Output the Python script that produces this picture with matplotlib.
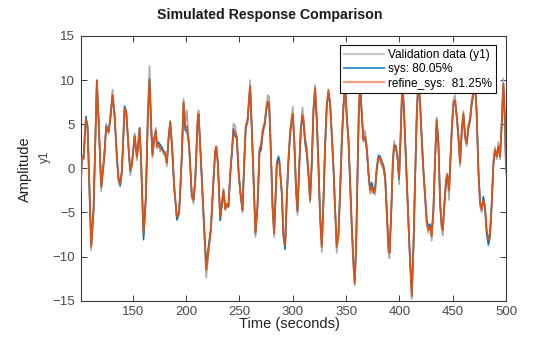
import matplotlib
matplotlib.use("Agg")
import matplotlib.pyplot as plt
from matplotlib.lines import Line2D

plt.rcParams['font.family'] = ['Liberation Sans', 'DejaVu Sans']

# ---------------- data ----------------
time_s = [
    101.0, 102.2, 103.7, 105.9, 107.5, 110.9, 113.1, 116.2, 117.8, 120.3,
    123.1, 125.0, 127.2, 128.8, 130.9, 132.8, 135.0, 136.5, 138.1, 139.7,
    142.2, 143.8, 145.9, 147.5, 149.1, 151.6, 153.8, 154.7, 156.3, 157.8,
    160.0, 162.2, 164.1, 165.6, 167.2, 168.4, 170.0, 171.6, 172.5, 174.1,
    175.6, 177.2, 178.8, 180.3, 181.9, 183.4, 185.0, 186.6, 188.8, 191.3,
    193.4, 195.9, 197.5, 199.1, 200.7, 202.8, 205.3, 206.9, 208.5, 210.7,
    211.6, 213.2, 214.7, 216.9, 218.8, 221.0, 223.2, 225.6, 227.2, 228.2,
    229.7, 231.9, 233.5, 235.0, 236.6, 238.2, 239.7, 241.3, 242.8, 244.4,
    246.0, 247.5, 249.1, 250.6, 252.8, 254.4, 255.9, 257.5, 259.4, 260.0,
    261.6, 263.2, 265.0, 266.9, 268.8, 270.3, 271.9, 273.8, 275.0, 276.6,
    277.8, 279.4, 281.0, 282.5, 284.1, 285.0, 286.6, 287.5, 289.7, 291.2,
    292.8, 294.4, 295.9, 297.5, 299.0, 300.0, 301.5, 303.1, 304.4, 305.9,
    307.5, 309.0, 310.0, 311.5, 313.1, 314.7, 316.2, 317.8, 319.4, 320.9,
    322.5, 324.0, 325.6, 327.2, 328.7, 330.3, 331.8, 333.4, 335.0, 336.5,
    338.1, 339.7, 341.2, 342.8, 344.4, 345.9, 347.5, 349.0, 350.6, 352.2,
    353.7, 355.3, 356.9, 358.1, 359.4, 360.6, 361.9, 363.1, 364.7, 366.2,
    367.8, 369.4, 370.9, 372.5, 374.0, 375.6, 377.2, 378.7, 380.3, 381.9,
    383.4, 385.0, 386.6, 388.1, 389.7, 390.7, 392.2, 393.8, 395.0, 396.6,
    398.2, 399.7, 401.3, 402.8, 404.4, 406.9, 409.4, 411.6, 413.2, 414.7,
    416.3, 417.8, 419.4, 421.0, 422.5, 424.1, 425.7, 427.2, 428.8, 430.3,
    431.9, 433.5, 435.0, 436.6, 438.2, 439.7, 440.7, 442.2, 443.8, 445.0,
    446.6, 447.5, 449.1, 450.7, 452.2, 453.8, 455.3, 456.9, 458.5, 460.0,
    461.6, 463.2, 464.7, 466.3, 467.8, 469.4, 471.0, 472.5, 474.1, 475.7,
    477.2, 478.8, 480.3, 481.9, 483.5, 485.0, 486.6, 488.2, 489.7, 491.3,
    492.8, 494.4, 496.0, 497.5, 499.1, 500.0,
]

validation_y1 = [
    -2.3, 1.0, 1.0, 5.3, 4.5, -9.3, -5.0, 9.7, 5.8, -2.6,
    1.0, 5.1, 3.9, 5.9, 8.9, 6.3, 1.1, -1.5, -2.1, -0.5,
    7.1, 6.1, 2.2, -0.8, 0.3, 4.0, 0.9, 2.6, 4.6, 0.3,
    -7.7, -3.0, 6.6, 11.6, 5.5, 1.2, 3.5, 4.6, 2.2, 3.0,
    1.9, 2.4, 1.6, 1.9, 0.2, 3.5, 5.4, 2.5, -2.4, -5.9,
    -5.2, 1.6, 7.9, 5.2, 6.6, 2.2, -3.3, -4.0, -1.6, 5.6,
    6.6, 2.2, -1.6, -7.5, -12.4, -9.6, -6.6, -1.0, 2.2, 2.3,
    0.9, -5.9, -3.7, -2.3, -4.3, -4.4, -4.0, -0.9, 2.0, 5.1,
    4.8, 3.3, -0.5, -2.3, -5.0, 0.9, 5.0, 5.2, 9.0, 10.0,
    4.0, -1.6, -7.8, -4.0, 2.3, 2.9, 4.6, 5.4, 6.9, 8.3,
    8.1, 1.8, -4.6, -7.8, -2.2, 0.7, 1.4, 0.3, -2.5, -7.3,
    -8.9, -3.0, 1.1, 4.3, 5.9, 7.0, 2.5, -2.8, -5.3, 0.1,
    4.7, 6.9, 5.9, 3.5, 2.4, -0.9, -3.9, 0.9, 7.0, 9.5,
    5.2, 0.3, -5.8, -9.5, -3.7, 2.8, 7.3, 8.6, 7.6, 3.7,
    -0.1, -5.0, -9.6, -7.4, -2.2, 3.1, 7.4, 10.0, 5.6, 2.9,
    -1.6, -6.9, -11.2, -13.3, -8.6, -1.0, 6.5, 10.0, 5.9, 3.0,
    4.3, 2.6, -0.5, -2.9, -2.5, -2.5, -3.0, 0.1, 1.6, 0.9,
    0.3, -0.1, -1.3, -5.0, -9.5, -10.2, -5.2, 0.9, 3.1, 2.2,
    1.6, -1.8, 4.6, 10.4, 5.9, -1.6, -9.2, -14.8, -8.6, -1.0,
    6.5, 10.4, 7.1, 2.9, -0.5, -3.5, -6.5, -7.3, -6.3, -8.2,
    -4.4, 1.6, 5.8, 2.5, -4.3, -7.0, -7.6, -3.7, -1.0, -0.9,
    -3.6, 0.2, 4.6, 7.8, 8.3, 5.6, 3.3, 0.2, 4.6, 6.5,
    3.3, 2.5, 5.0, 5.8, 7.8, 8.8, 10.0, 5.9, -0.5, -4.3,
    -5.0, -3.3, -4.7, -7.5, -8.8, -7.1, -3.7, 0.9, 2.4, 1.0,
    3.0, 1.0, 5.5, 10.2, 4.8, -0.6,
]

sys_y1 = [
    -2.5, 1.4, 1.2, 5.9, 4.8, -8.7, -4.6, 9.9, 5.5, -2.0,
    1.3, 4.8, 4.1, 5.6, 8.2, 6.1, 1.2, -1.2, -1.9, -0.3,
    7.0, 6.5, 2.4, -0.3, 0.5, 3.7, 1.4, 2.2, 4.6, 0.5,
    -8.1, -3.4, 6.0, 10.1, 4.5, 1.6, 3.5, 4.0, 2.9, 2.9,
    2.7, 2.4, 2.0, 1.6, 0.7, 3.3, 5.2, 2.9, -2.2, -5.8,
    -5.0, 1.2, 7.3, 4.3, 4.2, 2.6, -3.0, -3.5, -1.2, 5.2,
    6.1, 2.6, -1.2, -6.8, -11.0, -8.7, -6.8, -1.5, 1.8, 2.4,
    0.5, -5.9, -4.2, -2.7, -4.5, -4.1, -4.4, -0.7, 1.6, 4.5,
    3.6, 3.4, -0.3, -2.6, -4.8, 0.5, 4.5, 5.3, 8.4, 9.0,
    4.4, -1.2, -7.2, -4.4, 1.8, 2.1, 4.0, 5.0, 6.5, 7.4,
    7.2, 2.2, -4.2, -7.2, -2.6, 0.6, 1.3, 0.9, -3.0, -7.8,
    -9.2, -3.4, 0.6, 3.9, 5.4, 6.0, 2.9, -2.4, -4.8, -0.3,
    4.2, 5.8, 5.2, 2.8, 1.6, -0.8, -3.5, 0.5, 6.4, 8.9,
    5.6, 0.7, -5.3, -8.6, -4.1, 2.4, 6.8, 8.6, 7.3, 4.2,
    0.3, -4.6, -8.7, -7.5, -2.6, 2.7, 6.8, 9.3, 6.1, 3.4,
    -1.2, -6.4, -10.6, -12.7, -8.8, -1.4, 6.0, 9.3, 6.3, 3.4,
    3.4, 2.0, -0.6, -2.3, -1.6, -2.4, -2.2, -0.1, 1.3, 1.4,
    0.8, 0.4, -0.8, -4.5, -8.8, -9.4, -5.6, 0.4, 2.4, 2.6,
    1.2, -1.2, 4.1, 9.8, 6.3, -1.2, -8.7, -14.2, -9.0, -1.4,
    6.0, 9.8, 7.5, 3.4, -0.1, -3.0, -5.9, -6.5, -6.4, -7.2,
    -4.9, 1.1, 5.3, 2.9, -3.8, -6.4, -6.8, -4.2, -1.5, -0.8,
    -2.3, -0.1, 4.2, 7.2, 7.5, 6.0, 3.8, 0.8, 4.1, 6.0,
    3.8, 3.0, 4.5, 5.3, 7.2, 8.3, 9.4, 6.3, -0.1, -3.8,
    -4.5, -3.2, -4.5, -7.4, -8.6, -7.8, -4.2, 0.4, 2.0, 1.5,
    2.3, 1.5, 5.0, 9.4, 5.3, 0.0,
]

refine_sys_y1 = [
    -2.5, 1.3, 1.1, 5.6, 4.7, -8.9, -4.7, 10.0, 5.5, -2.1,
    1.3, 4.7, 4.2, 5.5, 8.3, 6.0, 1.3, -1.0, -1.7, -0.2,
    6.8, 6.4, 2.5, -0.2, 0.4, 3.6, 1.3, 2.3, 4.5, 0.6,
    -7.4, -3.2, 6.2, 10.0, 4.3, 1.5, 3.2, 4.3, 2.5, 2.6,
    2.3, 2.1, 1.9, 1.5, 0.6, 3.2, 5.3, 2.8, -2.1, -5.5,
    -4.9, 1.3, 7.5, 4.9, 4.7, 2.5, -3.2, -3.6, -1.3, 5.3,
    6.2, 2.5, -1.3, -7.0, -11.5, -9.3, -7.0, -1.3, 1.9, 2.5,
    0.6, -5.5, -4.0, -2.5, -4.7, -4.0, -4.3, -0.6, 1.7, 4.3,
    4.0, 3.6, -0.2, -2.5, -4.7, 0.6, 4.7, 5.5, 8.5, 9.3,
    4.3, -1.3, -7.4, -4.3, 2.1, 2.6, 4.3, 5.1, 6.6, 7.6,
    7.4, 2.1, -4.3, -7.4, -2.5, 0.4, 0.8, 0.6, -2.8, -7.5,
    -8.7, -3.2, 0.8, 4.0, 5.5, 6.2, 2.8, -2.5, -4.9, -0.2,
    4.3, 6.0, 5.5, 3.2, 2.1, -0.6, -3.6, 0.6, 6.6, 9.1,
    5.5, 0.6, -5.5, -8.9, -4.0, 2.5, 7.0, 8.9, 7.2, 4.0,
    0.2, -4.7, -8.9, -7.7, -2.5, 2.8, 7.0, 9.5, 5.9, 3.2,
    -1.3, -6.6, -10.8, -13.0, -8.9, -1.3, 6.2, 9.5, 6.2, 3.2,
    3.6, 2.3, -0.2, -2.5, -2.1, -2.8, -2.5, -0.2, 1.1, 1.2,
    0.6, 0.2, -1.0, -4.7, -9.0, -9.6, -5.5, 0.6, 2.6, 2.5,
    1.3, -1.0, 4.3, 10.0, 6.2, -1.3, -8.9, -14.5, -8.9, -1.3,
    6.2, 10.0, 7.4, 3.2, -0.2, -3.2, -6.2, -7.0, -6.6, -7.7,
    -4.7, 1.3, 5.5, 2.8, -4.0, -6.6, -7.0, -4.0, -1.3, -0.6,
    -2.5, -0.2, 4.3, 7.4, 7.7, 5.9, 3.6, 0.6, 4.3, 6.2,
    3.6, 2.8, 4.7, 5.5, 7.4, 8.5, 9.6, 6.2, -0.2, -4.0,
    -4.7, -3.6, -4.3, -7.0, -8.1, -7.4, -4.0, 0.6, 2.1, 1.3,
    2.5, 1.3, 5.1, 9.6, 5.1, -0.2,
]

series_labels = ["Validation data (y1)", "sys: 80.05%", "refine_sys:  81.25%"]
x_ticks = [150, 200, 250, 300, 350, 400, 450, 500]
y_ticks = [-15, -10, -5, 0, 5, 10, 15]

# ---------------- figure ----------------
fig = plt.figure(figsize=(5.6, 3.37), dpi=100)
ax = fig.add_axes([0.144, 0.1077, 0.7596, 0.7855])

c_val, c_sys, c_ref = '#ABABAB', '#0072BD', '#D95319'
ax.plot(time_s, validation_y1, color=c_val, lw=1.2, zorder=2)
ax.plot(time_s, sys_y1, color=c_sys, lw=1.1, zorder=3)
ax.plot(time_s, refine_sys_y1, color=c_ref, lw=1.3, zorder=4)

ax.set_xlim(101, 500)
ax.set_ylim(-15, 15)
ax.set_xticks(x_ticks)
ax.set_yticks(y_ticks)

axcol = '#3a3a3a'
for s in ax.spines.values():
    s.set_color(axcol)
    s.set_linewidth(0.8)
ax.tick_params(direction='in', length=4.5, width=0.7, colors=axcol,
               labelsize=9.5, top=True, right=True, pad=4)
for lab in ax.get_xticklabels() + ax.get_yticklabels():
    lab.set_color('#4a4a4a')

# labels
fig.text(289 / 560, 1 - 324 / 337, "Time (seconds)", ha='center', va='center',
         fontsize=10.5, color='#222222')
fig.text(25 / 560, 1 - 169 / 337, "Amplitude", ha='center', va='center',
         rotation=90, fontsize=10.5, color='#222222')
fig.text(45 / 560, 1 - 157 / 337, "y1", ha='center', va='center',
         rotation=90, fontsize=8.5, color='#444444')
fig.text(269.5 / 560, 1 - 15 / 337, "Simulated Response Comparison",
         ha='center', va='center', fontsize=10.2, fontweight='bold', color='#1a1a1a')

# legend
handles = [Line2D([], [], color='#C8C8C8', lw=1.6),
           Line2D([], [], color='#3C8FD0', lw=1.4),
           Line2D([], [], color='#EFA07C', lw=1.6)]
leg = ax.legend(handles, series_labels, loc='upper right',
                bbox_to_anchor=(0.9765, 0.965), borderaxespad=0,
                fontsize=8.6, frameon=True, fancybox=False, framealpha=1,
                edgecolor='#111111', handlelength=3.4, handletextpad=0.35,
                borderpad=0.3, labelspacing=0.2)
leg.get_frame().set_linewidth(0.8)
leg.set_zorder(10)

fig.savefig("out.png", dpi=100)
